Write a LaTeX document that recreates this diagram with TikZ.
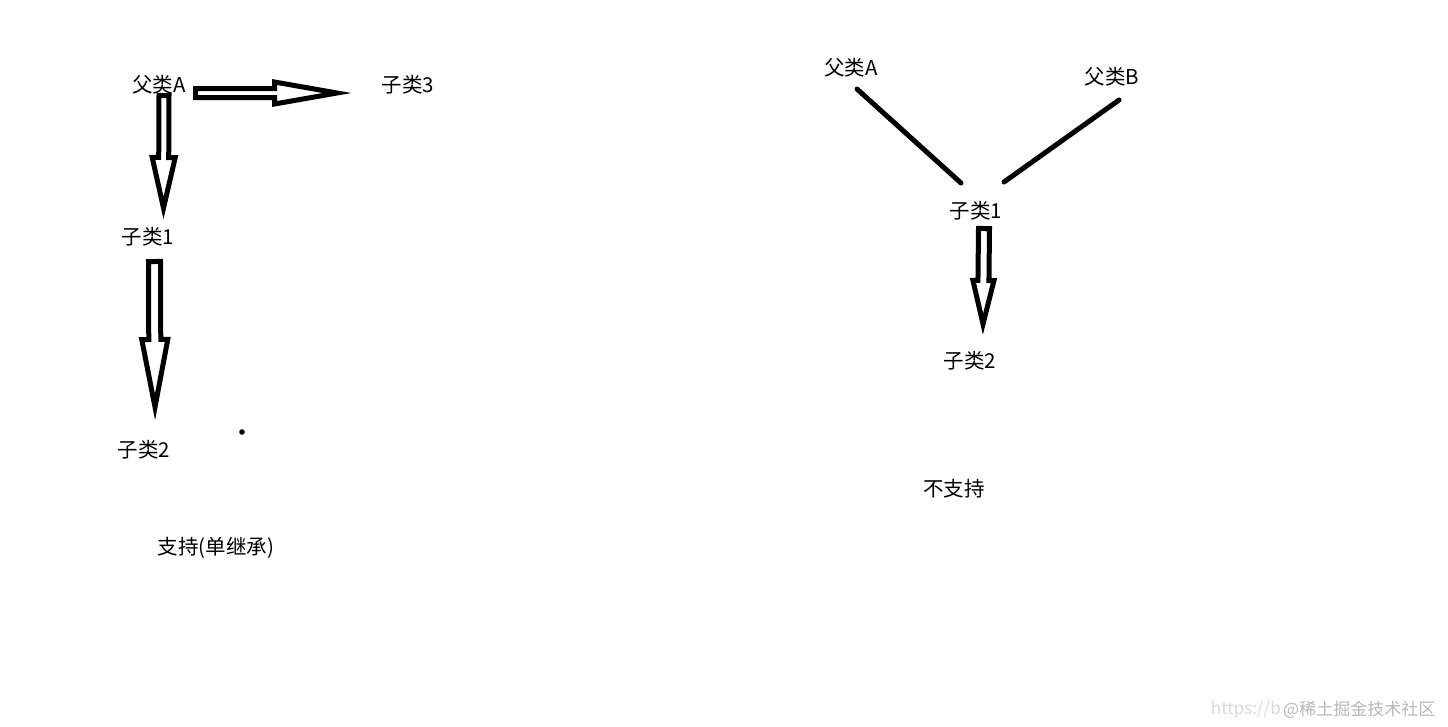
\documentclass[tikz,border=0pt]{standalone}
\usepackage{fontspec}
\setmainfont{Noto Sans CJK SC}
\usetikzlibrary{calc}
\tikzset{
  lbl/.style={font=\fontsize{20.5}{24}\selectfont, inner sep=0pt, anchor=center},
  wm/.style={font=\fontsize{17}{20}\selectfont, inner sep=0pt, text=black!28},
  blockarrow/.style={draw=black, fill=white, line width=5pt, line join=miter, miter limit=20},
  thickline/.style={draw=black, line width=5pt, line cap=round},
}
\newcommand\blockarr[5]{%
  \coordinate (hb) at ($(#2)!#5!(#1)$);
  \draw[blockarrow] ($(#1)!#3!90:(#2)$) -- ($(hb)!#3!-90:(#1)$) -- ($(hb)!#4!-90:(#1)$)
    -- (#2) -- ($(hb)!#4!90:(#1)$) -- ($(hb)!#3!90:(#1)$) -- ($(#1)!#3!-90:(#2)$) -- cycle;
}
\begin{document}
\begin{tikzpicture}[x=1pt,y=-1pt]
\useasboundingbox[fill=white] (0,0) rectangle (1448,726);
% left diagram
\node[lbl] (lA) at (159,85) {父类A};
\node[lbl] (l3) at (408,85) {子类3};
\node[lbl] (l1) at (148,237) {子类1};
\node[lbl] (l2) at (144,450) {子类2};
\node[lbl] (lcap) at (216,548) {支持(单继承)};
\fill (242,432) circle (2.8);
\coordinate (aHs) at (195.5,93);  \coordinate (aHe) at (337,93);
\coordinate (aV1s) at (164,95.5); \coordinate (aV1e) at (163.5,208);
\coordinate (aV2s) at (154.5,261.5); \coordinate (aV2e) at (155,407);
\blockarr{aHs}{aHe}{4.5pt}{11pt}{62.5pt}
\blockarr{aV1s}{aV1e}{5pt}{11.5pt}{50.5pt}
\blockarr{aV2s}{aV2e}{6pt}{13pt}{67.5pt}
% right diagram
\node[lbl] (rA) at (851,68) {父类A};
\node[lbl] (rB) at (1112,77) {父类B};
\node[lbl] (r1) at (976,211) {子类1};
\node[lbl] (r2) at (970,361) {子类2};
\node[lbl] (rcap) at (954,489) {不支持};
\coordinate (lnAs) at (857,89);  \coordinate (lnAe) at (961,183);
\coordinate (lnBs) at (1119,100); \coordinate (lnBe) at (1004,182);
\draw[thickline] (lnAs) -- (lnAe);
\draw[thickline] (lnBs) -- (lnBe);
\coordinate (aRs) at (984,228.5); \coordinate (aRe) at (983,324);
\blockarr{aRs}{aRe}{5.5pt}{10.5pt}{43.5pt}
% watermark
\node[wm, text=black!15, anchor=east] (wm1) at (1281,710) {https://b};
\node[wm, anchor=west] (wm2) at (1283,710) {@稀土掘金技术社区};
\end{tikzpicture}
\end{document}
